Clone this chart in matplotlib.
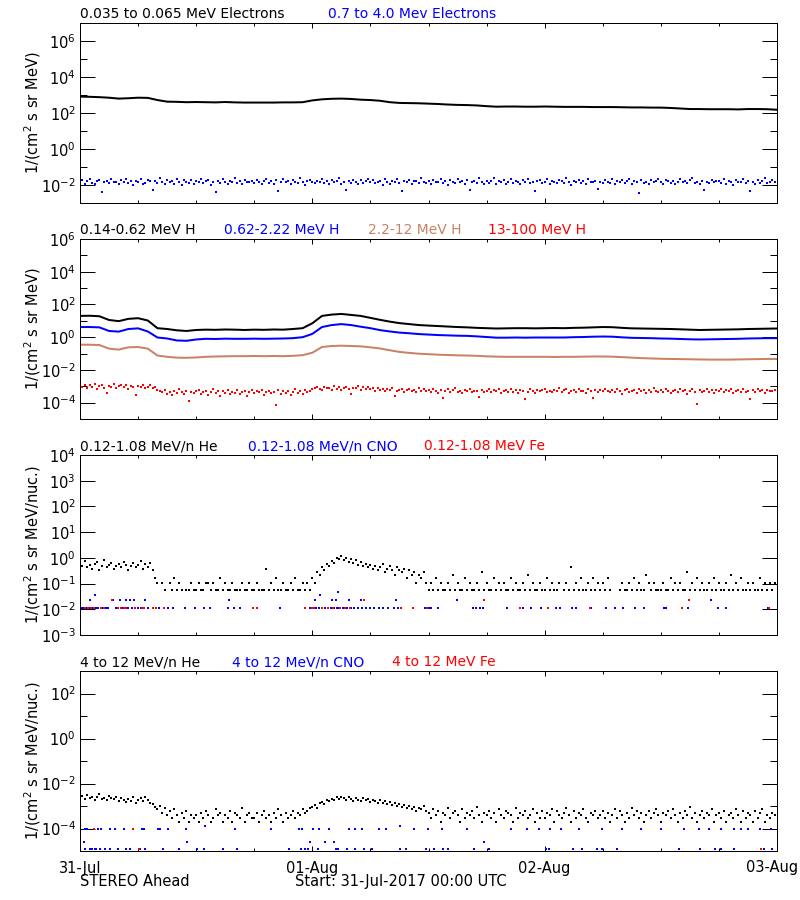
import numpy as np
import matplotlib
matplotlib.use("Agg")
import matplotlib.pyplot as plt
from matplotlib.ticker import FixedLocator, FuncFormatter, NullFormatter

plt.rcParams['font.family'] = ['DejaVu Sans']

# ---------------- data ----------------
DAY_LABELS = ["31-Jul", "01-Aug", "02-Aug", "03-Aug"]
HOURS = list(range(73))          # hourly samples for the smooth lines (hours since 31-Jul 00:00)
SLOT_HOURS = 0.25                # 15-min samples for scattered series

# Panel 1: 0.035-0.065 MeV electrons, log10 flux, hourly
P1_LOW_E_LOG = [2.91, 2.90, 2.88, 2.85, 2.80, 2.82, 2.85, 2.84, 2.72, 2.63, 2.62, 2.60, 2.61, 2.60, 2.59, 2.61,
                2.59, 2.58, 2.58, 2.58, 2.58, 2.59, 2.59, 2.60, 2.70, 2.76, 2.79, 2.80, 2.78, 2.74, 2.72, 2.68,
                2.60, 2.56, 2.55, 2.54, 2.52, 2.50, 2.47, 2.45, 2.44, 2.42, 2.38, 2.35, 2.36, 2.36, 2.35, 2.35,
                2.36, 2.35, 2.34, 2.34, 2.34, 2.33, 2.33, 2.33, 2.32, 2.31, 2.31, 2.30, 2.30, 2.28, 2.25, 2.22,
                2.22, 2.21, 2.21, 2.21, 2.20, 2.22, 2.22, 2.21, 2.18]

# Panel 1: 0.7-4.0 MeV electrons, log10 flux, 15-min
P1_HIGH_E_LOG = [
    -1.85, -1.74, -1.92, -1.80, -1.66, -1.88, -1.97, -1.79, -1.70, -2.38, -1.83, -1.76, -1.91, -1.64, -1.86, -1.81, -1.95, -1.72, -1.84, -1.69, -1.90, -1.78, -2.00, -1.75,
    -1.82, -1.68, -1.93, -1.87, -1.73, -1.80, -2.28, -1.77, -1.89, -1.62, -1.84, -1.96, -1.71, -1.83, -1.79, -1.92, -1.67, -1.86, -2.02, -1.74, -1.81, -1.88, -1.70, -1.94,
    -1.78, -1.85, -1.66, -1.91, -1.80, -1.73, -1.98, -1.83, -2.40, -1.76, -1.87, -1.69, -1.82, -1.93, -1.75, -1.84, -1.61, -1.89, -1.79, -1.95, -1.72, -1.86, -1.81, -1.77,
    -1.90, -1.70, -1.84, -1.97, -1.76, -1.65, -1.88, -1.80, -1.92, -1.74, -2.31, -1.83, -1.68, -1.86, -1.79, -1.94, -1.73, -1.81, -1.89, -1.63, -1.85, -1.99, -1.78, -1.71,
    -1.84, -1.91, -1.75, -1.82, -1.67, -1.88, -1.80, -1.96, -1.72, -1.85, -1.78, -1.60, -1.93, -1.81, -2.26, -1.76, -1.87, -1.70, -1.83, -1.95, -1.74, -1.89, -1.79, -1.66,
    -1.86, -1.73, -1.90, -1.81, -1.77, -1.98, -1.69, -1.84, -1.92, -1.75, -1.82, -1.64, -1.88, -2.36, -1.79, -1.85, -1.71, -1.94, -1.80, -1.76, -1.87, -1.62, -1.83, -1.91,
    -1.78, -1.95, -1.72, -1.86, -1.81, -1.68, -1.89, -1.77, -2.01, -1.74, -1.83, -1.90, -1.66, -1.85, -1.79, -1.93, -1.70, -2.29, -1.84, -1.76, -1.88, -1.59, -1.82, -1.97,
    -1.75, -1.87, -1.80, -1.63, -1.92, -1.78, -1.85, -1.71, -1.96, -1.82, -1.68, -1.89, -1.76, -1.84, -1.93, -1.73, -1.81, -1.65, -1.90, -1.86, -2.33, -1.79, -1.74, -1.88,
    -1.83, -1.69, -1.94, -1.77, -1.85, -1.91, -1.72, -1.80, -1.87, -1.61, -1.84, -1.98, -1.75, -1.82, -1.70, -1.89, -1.79, -1.93, -1.67, -1.86, -1.81, -1.76, -2.24, -1.84,
    -1.90, -1.74, -1.81, -1.87, -1.66, -1.95, -1.78, -1.83, -1.72, -1.88, -1.80, -1.64, -1.92, -1.77, -1.85, -2.42, -1.73, -1.89, -1.82, -1.96, -1.70, -1.84, -1.79, -1.68,
    -1.86, -1.93, -1.71, -1.80, -1.88, -1.75, -1.97, -1.83, -1.67, -1.85, -1.79, -1.91, -1.74, -1.62, -1.87, -1.82, -1.94, -1.76, -2.27, -1.81, -1.89, -1.72, -1.85, -1.78,
    -1.80, -1.88, -1.65, -1.92, -1.77, -1.84, -1.99, -1.73, -1.86, -1.81, -1.69, -1.90, -1.78, -2.35, -1.83, -1.95, -1.71, -1.87, -1.76, -1.63, -1.91, -1.82, -1.74, -1.86]

# Panel 2: protons, log10 flux, hourly
P2_H1_LOG = [1.30, 1.31, 1.28, 1.05, 0.98, 1.12, 1.16, 1.02, 0.55, 0.50, 0.42, 0.38, 0.44, 0.46, 0.45, 0.47,
             0.46, 0.44, 0.46, 0.45, 0.47, 0.46, 0.50, 0.55, 0.85, 1.30, 1.38, 1.42, 1.36, 1.30, 1.18, 1.06,
             0.95, 0.86, 0.80, 0.74, 0.71, 0.68, 0.65, 0.62, 0.60, 0.57, 0.55, 0.53, 0.54, 0.55, 0.55, 0.54,
             0.55, 0.56, 0.55, 0.57, 0.58, 0.60, 0.62, 0.61, 0.57, 0.54, 0.53, 0.52, 0.51, 0.50, 0.48, 0.46,
             0.44, 0.45, 0.46, 0.47, 0.48, 0.50, 0.51, 0.52, 0.53]
P2_H2_LOG = [0.62, 0.62, 0.60, 0.38, 0.34, 0.50, 0.54, 0.35, -0.02, -0.08, -0.20, -0.22, -0.14, -0.10, -0.11, -0.09,
             -0.10, -0.10, -0.09, -0.10, -0.09, -0.08, -0.06, 0.00, 0.20, 0.62, 0.74, 0.80, 0.74, 0.64, 0.55, 0.43,
             0.35, 0.28, 0.24, 0.19, 0.16, 0.13, 0.11, 0.09, 0.08, 0.05, 0.01, -0.03, -0.03, -0.02, -0.03, -0.02,
             -0.02, -0.02, -0.02, 0.00, 0.01, 0.03, 0.04, 0.03, -0.01, -0.04, -0.05, -0.06, -0.08, -0.09, -0.11, -0.13,
             -0.14, -0.13, -0.12, -0.11, -0.10, -0.08, -0.07, -0.06, -0.06]
P2_H3_LOG = [-0.46, -0.46, -0.48, -0.70, -0.76, -0.62, -0.60, -0.70, -1.12, -1.20, -1.25, -1.26, -1.24, -1.20, -1.18, -1.17,
             -1.16, -1.16, -1.15, -1.16, -1.15, -1.16, -1.14, -1.10, -0.95, -0.60, -0.54, -0.52, -0.54, -0.56, -0.62, -0.69,
             -0.80, -0.90, -0.96, -1.01, -1.04, -1.07, -1.09, -1.11, -1.12, -1.14, -1.17, -1.19, -1.20, -1.20, -1.20, -1.20,
             -1.20, -1.21, -1.20, -1.20, -1.19, -1.18, -1.18, -1.19, -1.22, -1.25, -1.28, -1.30, -1.32, -1.33, -1.34, -1.35,
             -1.36, -1.37, -1.37, -1.37, -1.36, -1.35, -1.34, -1.33, -1.33]
# 13-100 MeV H, log10 flux, 15-min
P2_H4_LOG = [
    -2.98, -3.05, -2.90, -3.10, -2.95, -3.02, -2.87, -3.14, -3.00, -2.93, -3.08, -3.40, -2.96, -3.04, -2.89, -3.12, -3.01, -2.94, -3.07, -2.92, -3.16, -2.99, -3.03, -3.55,
    -2.97, -3.06, -2.91, -3.09, -3.02, -2.95, -3.13, -3.04, -3.20, -3.30, -3.38, -3.25, -3.45, -3.33, -3.52, -3.28, -3.40, -3.18, -3.36, -3.47, -3.26, -3.90, -3.35, -3.42,
    -3.30, -3.22, -3.48, -3.37, -3.27, -3.55, -3.34, -3.19, -3.43, -3.31, -3.62, -3.29, -3.39, -3.24, -3.50, -3.35, -3.41, -3.21, -3.46, -3.32, -3.28, -3.57, -3.36, -3.25,
    -3.44, -3.30, -3.38, -3.20, -3.51, -3.33, -3.27, -3.42, -3.35, -4.15, -3.23, -3.47, -3.31, -3.39, -3.26, -3.53, -3.34, -3.18, -3.40, -3.29, -3.45, -3.22, -3.37, -3.28,
    -3.18, -3.10, -3.05, -3.14, -3.22, -3.02, -3.12, -3.08, -3.20, -2.98, -3.15, -3.06, -3.25, -3.11, -3.03, -3.17, -3.45, -3.09, -3.13, -3.00, -3.21, -3.07, -3.16, -3.04,
    -3.19, -3.12, -3.26, -3.08, -3.22, -3.15, -3.31, -3.18, -3.24, -3.10, -3.60, -3.27, -3.20, -3.14, -3.33, -3.23, -3.17, -3.29, -3.21, -3.35, -3.11, -3.26, -3.19, -3.30,
    -3.24, -3.32, -3.15, -3.28, -3.40, -3.21, -3.70, -3.30, -3.18, -3.36, -3.25, -3.13, -3.34, -3.27, -3.42, -3.22, -3.31, -3.16, -3.38, -3.26, -3.29, -3.68, -3.20, -3.33,
    -3.27, -3.19, -3.35, -3.23, -3.30, -3.14, -3.41, -3.28, -3.22, -3.37, -3.17, -3.32, -3.25, -3.44, -3.20, -3.29, -3.75, -3.34, -3.18, -3.26, -3.39, -3.21, -3.31, -3.24,
    -3.16, -3.33, -3.27, -3.38, -3.22, -3.30, -3.12, -3.36, -3.25, -3.19, -3.43, -3.28, -3.21, -3.34, -3.15, -3.31, -3.26, -3.40, -3.18, -3.29, -3.72, -3.23, -3.35, -3.20,
    -3.30, -3.17, -3.26, -3.37, -3.21, -3.32, -3.14, -3.28, -3.45, -3.24, -3.19, -3.35, -3.27, -3.22, -3.39, -3.16, -3.31, -3.25, -3.42, -3.20, -3.33, -3.13, -3.29, -3.36,
    -3.23, -3.34, -3.18, -3.29, -3.41, -3.26, -3.20, -3.36, -3.15, -3.31, -3.24, -3.47, -3.28, -3.19, -3.33, -4.10, -3.22, -3.38, -3.27, -3.17, -3.32, -3.25, -3.40, -3.21,
    -3.29, -3.16, -3.35, -3.24, -3.30, -3.19, -3.43, -3.26, -3.21, -3.37, -3.14, -3.32, -3.28, -3.80, -3.23, -3.34, -3.18, -3.30, -3.25, -3.39, -3.20, -3.31, -3.27, -3.22]

# Panel 3: 0.12-1.08 MeV/n He, counts per 15 min (0 = none), flux per count
P3_HE_UNIT = 0.054
P3_HE_COUNTS = [
    12, 9, 14, 8, 10, 7, 11, 13, 6, 9, 15, 8, 10, 12, 7, 9, 11, 8, 13, 10, 6, 9, 12, 8,
    10, 14, 7, 11, 8, 12, 6, 3, 2, 0, 2, 1, 0, 2, 1, 3, 1, 2, 1, 0, 1, 1, 2, 1,
    1, 2, 1, 1, 2, 2, 1, 2, 1, 1, 3, 1, 2, 1, 1, 2, 1, 1, 1, 2, 1, 1, 2, 1,
    1, 2, 1, 1, 1, 7, 1, 2, 1, 3, 1, 1, 2, 1, 1, 2, 1, 3, 1, 1, 2, 1, 2, 1,
    3, 2, 5, 4, 8, 6, 11, 9, 14, 12, 19, 16, 22, 15, 18, 13, 17, 12, 15, 10, 13, 9, 11, 8,
    10, 7, 9, 6, 8, 11, 5, 7, 9, 6, 4, 8, 6, 5, 7, 3, 6, 4, 5, 2, 4, 3, 5, 2,
    1, 2, 1, 3, 1, 2, 1, 1, 2, 1, 4, 1, 2, 1, 1, 3, 1, 2, 1, 1, 2, 1, 5, 1,
    2, 1, 1, 3, 1, 2, 1, 2, 1, 1, 3, 1, 2, 1, 1, 2, 1, 4, 1, 2, 1, 1, 2, 1,
    1, 3, 1, 2, 1, 1, 2, 0, 1, 2, 1, 8, 1, 2, 1, 3, 1, 1, 2, 1, 3, 1, 2, 1,
    2, 1, 3, 1, 0, 0, 0, 1, 2, 1, 1, 2, 1, 3, 1, 2, 1, 1, 4, 2, 1, 2, 1, 1,
    1, 2, 1, 1, 3, 1, 2, 1, 2, 1, 1, 5, 1, 2, 1, 3, 1, 2, 1, 1, 2, 1, 3, 1,
    2, 1, 1, 2, 1, 4, 1, 2, 1, 3, 1, 1, 2, 1, 2, 1, 1, 3, 1, 2, 1, 2, 1, 2]
# CNO and Fe (sparse): event hours and counts
P3_HEAVY_UNIT = 0.0117
P3_CNO_HOURS = [0.1, 0.3, 0.5, 0.7, 0.9, 1.2, 1.4, 1.7, 1.9, 2.2, 2.4, 2.7, 2.9, 3.7, 3.9, 4.3, 4.6, 5.0, 5.4, 5.7,
                6.0, 6.3, 6.6, 7.0, 8.2, 9.1, 9.6, 10.8, 11.9, 12.8, 13.4, 15.3, 15.9, 16.5, 20.7, 23.8, 24.1,
                24.4, 24.7, 25.0, 25.3, 25.6, 25.9, 26.2, 26.5, 26.8, 27.2, 27.6, 28.0, 28.3, 28.7, 29.1, 29.5,
                30.0, 30.4, 30.9, 31.3, 31.8, 32.4, 32.9, 33.2, 35.6, 36.0, 36.3, 37.0, 40.6, 40.9, 41.3, 41.6,
                44.1, 45.8, 46.6, 47.6, 49.2, 49.6, 50.8, 51.2, 52.8, 54.3, 55.3, 56.1, 57.3, 58.3, 60.3, 60.5,
                62.8, 65.9, 66.7, 71.1,
                1.0, 3.4, 4.1, 4.8, 5.2, 5.6, 6.7, 15.4, 24.3, 26.0, 26.4, 27.8, 29.0, 32.6, 38.9, 65.2,
                1.6, 24.8, 26.6]
P3_CNO_COUNTS = [1] * 89 + [2] * 16 + [3, 3, 4]
P3_FE_HOURS = [0.5, 0.8, 1.1, 1.4, 2.2, 2.5, 3.9, 4.2, 4.5, 4.8, 5.7, 6.4, 6.6, 7.5, 7.9, 8.7, 17.9, 18.3,
               23.2, 24.0, 24.2, 25.0, 25.6, 26.1, 26.9, 27.4, 27.9, 33.2, 34.4, 35.8, 45.5, 48.3, 52.7,
               62.2, 71.2, 3.3, 29.3, 41.7, 62.9]
P3_FE_COUNTS = [1] * 35 + [2] * 4

# Panel 4: 4-12 MeV/n He, counts per 15 min, flux per count
P4_HE_UNIT = 1.0e-4
P4_HE_COUNTS = [
    24, 28, 20, 31, 22, 26, 19, 25, 33, 21, 23, 18, 27, 22, 20, 25, 17, 23, 19, 15, 21, 16, 24, 14,
    18, 22, 16, 25, 19, 14, 12, 9, 7, 10, 5, 8, 4, 6, 3, 7, 4, 2, 5, 3, 6, 2, 4, 3,
    4, 2, 5, 3, 6, 4, 2, 3, 7, 4, 5, 2, 4, 3, 6, 2, 5, 4, 3, 8, 2, 4, 5, 3,
    3, 5, 2, 4, 6, 3, 4, 2, 5, 3, 7, 4, 2, 5, 3, 4, 6, 3, 5, 4, 7, 5, 6, 8,
    9, 11, 8, 13, 15, 12, 18, 16, 21, 19, 24, 20, 26, 22, 18, 25, 21, 17, 23, 19, 16, 22, 18, 20,
    15, 19, 17, 14, 18, 13, 16, 12, 15, 11, 14, 10, 12, 9, 11, 8, 10, 7, 9, 6, 8, 7, 10, 6,
    5, 3, 7, 4, 6, 2, 5, 4, 8, 3, 5, 6, 4, 2, 7, 3, 5, 4, 6, 3, 9, 4, 2, 5,
    4, 6, 3, 5, 2, 7, 4, 3, 6, 5, 4, 2, 8, 3, 5, 4, 6, 3, 4, 7, 2, 5, 3, 6,
    3, 5, 4, 7, 2, 6, 4, 3, 5, 8, 4, 2, 6, 3, 5, 4, 7, 3, 2, 5, 4, 6, 3, 4,
    6, 3, 5, 2, 4, 7, 3, 6, 4, 2, 5, 3, 8, 4, 6, 3, 5, 2, 4, 6, 3, 5, 7, 4,
    2, 5, 4, 6, 3, 7, 4, 2, 5, 3, 6, 4, 9, 3, 5, 2, 4, 6, 3, 5, 4, 7, 2, 4,
    5, 3, 6, 2, 4, 5, 3, 7, 4, 2, 6, 3, 5, 4, 2, 6, 3, 5, 7, 2, 4, 3, 5, 4]
# CNO (sparse): hours and flux values
P4_CNO_HOURS_A = [0.5, 0.7, 1.9, 2.2, 3.1, 3.6, 4.5, 6.4, 6.6, 8.1, 8.3, 9.1, 10.9, 16.0, 19.7, 22.6, 22.9, 24.1,
                  24.7, 25.7, 27.8, 28.4, 29.1, 30.9, 31.6, 34.5, 35.9, 37.4, 40.0, 44.5, 46.2, 47.4, 48.6,
                  49.7, 51.5, 53.9, 56.0, 57.9, 60.0, 62.4, 63.9, 65.0, 66.2, 67.6, 68.3, 69.0, 70.2, 71.4]
P4_CNO_HOURS_B = [12.9, 33.1]
P4_CNO_HOURS_C = [0.4, 11.1, 23.8, 25.3, 26.2, 41.7]
P4_CNO_HOURS_D = [0.5, 1.0, 1.2, 1.6, 1.7, 2.1, 2.6, 3.1, 3.9, 4.8, 5.2, 6.2, 6.7, 8.6, 10.2, 12.1, 12.8, 14.8,
                  16.2, 21.6, 22.8, 23.2, 23.6, 24.6, 26.4, 26.6, 27.6, 28.4, 29.3, 30.2, 33.1, 33.7, 35.7,
                  36.6, 37.5, 38.0, 40.7, 42.3, 48.1, 48.4, 50.9, 51.9, 53.4, 53.9, 55.5, 61.9, 64.0, 65.6,
                  66.2, 67.6, 70.7, 71.5]
P4_CNO_LEVELS = [1.0e-4, 1.25e-4, 2.6e-5, 1.2e-5]
P4_FE_HOURS = [1.4, 5.5, 6.1, 70.3]
P4_FE_VALUES = [1.0e-4, 1.0e-4, 1.2e-5, 1.2e-5]

# ---------------- figure ----------------
W, H = 800, 900
fig = plt.figure(figsize=(W / 100, H / 100), dpi=100)

TAN = '#c88264'
PX = 72 / 100  # points per pixel

def rect(top, bottom):
    return [80 / W, 1 - bottom / H, (777 - 80) / W, (bottom - top) / H]

panels = [
    dict(top=23, bot=203, ylim=(1e-3, 1e7), major=[-2, 0, 2, 4, 6], minor=[-1, 1, 3, 5],
         ylabel=r"1/(cm$^2$ s sr MeV)",
         titles=[("0.035 to 0.065 MeV Electrons", 'black', 80), ("0.7 to 4.0 Mev Electrons", 'blue', 328)]),
    dict(top=239, bot=419, ylim=(1e-5, 1e6), major=[-4, -2, 0, 2, 4, 6], minor=[-3, -1, 1, 3, 5],
         ylabel=r"1/(cm$^2$ s sr MeV)",
         titles=[("0.14-0.62 MeV H", 'black', 80), ("0.62-2.22 MeV H", 'blue', 224),
                 ("2.2-12 MeV H", TAN, 368), ("13-100 MeV H", 'red', 488)]),
    dict(top=455, bot=635, ylim=(1e-3, 1e4), major=[-3, -2, -1, 0, 1, 2, 3, 4], minor=[],
         ylabel=r"1/(cm$^2$ s sr MeV/nuc.)",
         titles=[("0.12-1.08 MeV/n He", 'black', 80), ("0.12-1.08 MeV/n CNO", 'blue', 248),
                 ("0.12-1.08 MeV Fe", 'red', 424)]),
    dict(top=671, bot=851, ylim=(1e-5, 1e3), major=[-4, -2, 0, 2], minor=[-3, -1, 1],
         ylabel=r"1/(cm$^2$ s sr MeV/nuc.)",
         titles=[("4 to 12 MeV/n He", 'black', 80), ("4 to 12 MeV/n CNO", 'blue', 232),
                 ("4 to 12 MeV Fe", 'red', 392)]),
]

axes = []
for i, p in enumerate(panels):
    ax = fig.add_axes(rect(p['top'], p['bot']))
    ax.set_yscale('log')
    ax.set_ylim(*p['ylim'])
    ax.set_xlim(0, 72)
    ax.yaxis.set_major_locator(FixedLocator([10.0 ** e for e in p['major']]))
    ax.yaxis.set_minor_locator(FixedLocator([10.0 ** e for e in p['minor']]))
    ax.yaxis.set_major_formatter(FuncFormatter(lambda v, pos: r"$10^{%d}$" % int(round(np.log10(v)))))
    ax.yaxis.set_minor_formatter(NullFormatter())
    ax.tick_params(axis='y', which='major', direction='in', length=15 * PX, width=1 * PX,
                   left=True, right=True, labelsize=10.5, pad=3)
    ax.tick_params(axis='y', which='minor', direction='in', length=7 * PX, width=1 * PX,
                   left=True, right=True)
    ax.xaxis.set_major_locator(FixedLocator([0, 24, 48, 72]))
    ax.xaxis.set_minor_locator(FixedLocator([h for h in range(6, 72, 6) if h % 24]))
    ax.tick_params(axis='x', which='major', direction='in', length=5 * PX, width=1 * PX,
                   top=True, bottom=True, labelsize=10.5, pad=7)
    ax.tick_params(axis='x', which='minor', direction='in', length=3 * PX, width=1 * PX,
                   top=True, bottom=True)
    if i == 3:
        # last day label is placed by hand so that it stays inside the figure
        ax.set_xticklabels(DAY_LABELS[:3] + [""])
    else:
        ax.set_xticklabels([])
    for s in ax.spines.values():
        s.set_linewidth(1 * PX)
    for txt, col, x0 in p['titles']:
        fig.text(x0 / W, 1 - (p['top'] - 5) / H, txt, color=col, fontsize=10, va='baseline', ha='left')
    fig.text(33 / W, 1 - (p['top'] + p['bot']) / 2 / H, p['ylabel'], rotation=90,
             ha='center', va='center', fontsize=10.5)
    axes.append(ax)

hours = np.array(HOURS, dtype=float)
dot = dict(marker='s', linestyle='none', markersize=1.9, markeredgewidth=0)

def slots(n):
    return np.arange(n) * SLOT_HOURS

# Panel 1
ax = axes[0]
ax.plot(hours, 10 ** np.array(P1_LOW_E_LOG), color='black', lw=2 * PX)
ax.plot(slots(len(P1_HIGH_E_LOG)), 10 ** np.array(P1_HIGH_E_LOG), color='blue', **dot)

# Panel 2
ax = axes[1]
ax.plot(hours, 10 ** np.array(P2_H1_LOG), color='black', lw=2 * PX)
ax.plot(hours, 10 ** np.array(P2_H2_LOG), color='blue', lw=2 * PX)
ax.plot(hours, 10 ** np.array(P2_H3_LOG), color=TAN, lw=2 * PX)
ax.plot(slots(len(P2_H4_LOG)), 10 ** np.array(P2_H4_LOG), color='red', **dot)

# Panel 3
ax = axes[2]
c = np.array(P3_HE_COUNTS, dtype=float)
t = slots(len(c))
m = c > 0
ax.plot(t[m], c[m] * P3_HE_UNIT, color='black', **dot)
ax.plot(P3_CNO_HOURS, np.array(P3_CNO_COUNTS) * P3_HEAVY_UNIT, color='blue', **dot)
ax.plot(P3_FE_HOURS, np.array(P3_FE_COUNTS) * P3_HEAVY_UNIT, color='red', **dot)

# Panel 4
ax = axes[3]
c = np.array(P4_HE_COUNTS, dtype=float)
t = slots(len(c))
m = c > 0
ax.plot(t[m], c[m] * P4_HE_UNIT, color='black', **dot)
for hrs, lev in zip([P4_CNO_HOURS_A, P4_CNO_HOURS_B, P4_CNO_HOURS_C, P4_CNO_HOURS_D], P4_CNO_LEVELS):
    ax.plot(hrs, [lev] * len(hrs), color='blue', **dot)
ax.plot(P4_FE_HOURS, P4_FE_VALUES, color='red', **dot)

fig.text(798 / W, 1 - 872 / H, DAY_LABELS[3], fontsize=10.5, va='baseline', ha='right')
fig.text(80 / W, 1 - 886 / H, "STEREO Ahead", fontsize=10.5, va='baseline', ha='left')
fig.text(295 / W, 1 - 886 / H, "Start: 31-Jul-2017 00:00 UTC", fontsize=10.5, va='baseline', ha='left')

fig.savefig("out.png", dpi=100)
